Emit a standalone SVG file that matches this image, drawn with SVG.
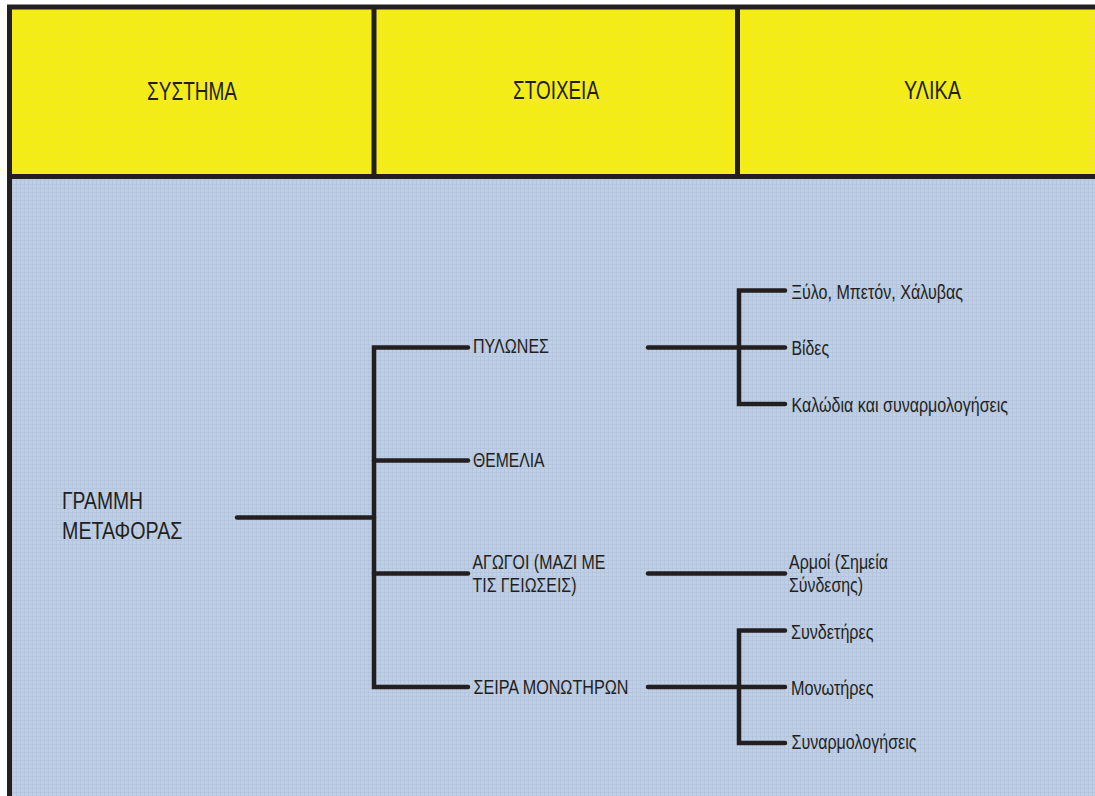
<svg xmlns="http://www.w3.org/2000/svg" width="1095" height="796" viewBox="0 0 1095 796">
  <style>
    .frame { stroke: #231f20; stroke-width: 5; fill: none; }
    .conn { stroke: #231f20; stroke-width: 4.5; fill: none; stroke-linecap: round; stroke-linejoin: miter; }
    text { font-family: "Liberation Sans", Arial, sans-serif; fill: #231f20; }
    .hdr { font-size: 26px; }
    .big { font-size: 23px; }
    .sm { font-size: 19.5px; }
  </style>
  <defs>
    <pattern id="gridY" width="4" height="4" patternUnits="userSpaceOnUse">
      <rect width="4" height="4" fill="#f6ef00"/>
      <path d="M0 0.5H4M0.5 0V4" stroke="#ece46a" stroke-width="1" opacity="0.35"/>
    </pattern>
    <pattern id="gridB" width="4" height="4" patternUnits="userSpaceOnUse">
      <rect width="4" height="4" fill="#bfcfe5"/>
      <path d="M0 0.5H4M0.5 0V4" stroke="#a9bbd6" stroke-width="1" opacity="0.5"/>
    </pattern>
  </defs>

  <g id="background">
    <rect x="10" y="8" width="1090" height="169" fill="url(#gridY)"/>
    <rect x="10" y="177" width="1090" height="625" fill="url(#gridB)"/>
    <path class="frame" d="M7 7H1095M9.5 5V796M7 176.5H1095M374 5V179M737.5 5V179"/>
  </g>

  <g id="connectors">
    <path class="conn" d="M237 517.5H374"/>
    <path class="conn" d="M468 347.5H374V687H468"/>
    <path class="conn" d="M374 460.5H468"/>
    <path class="conn" d="M374 573.5H468"/>
    <path class="conn" d="M648 347.5H785"/>
    <path class="conn" d="M785 290.5H739V404H785"/>
    <path class="conn" d="M648 573.5H785"/>
    <path class="conn" d="M648 687H785"/>
    <path class="conn" d="M785 630.5H739V743H785"/>
  </g>

  <g id="header-systima"><text class="hdr" x="147" y="100" textLength="90" lengthAdjust="spacingAndGlyphs">ΣΥΣΤΗΜΑ</text></g>
  <g id="header-stoixeia"><text class="hdr" x="513" y="98.5" textLength="86" lengthAdjust="spacingAndGlyphs">ΣΤΟΙΧΕΙΑ</text></g>
  <g id="header-ylika"><text class="hdr" x="904" y="99" textLength="57" lengthAdjust="spacingAndGlyphs">ΥΛΙΚΑ</text></g>

  <g id="node-grammi">
    <text class="big" x="62" y="509" textLength="81" lengthAdjust="spacingAndGlyphs">ΓΡΑΜΜΗ</text>
    <text class="big" x="62" y="538.5" textLength="120.5" lengthAdjust="spacingAndGlyphs">ΜΕΤΑΦΟΡΑΣ</text>
  </g>

  <g id="node-pylones"><text class="sm" x="473" y="353" textLength="76" lengthAdjust="spacingAndGlyphs">ΠΥΛΩΝΕΣ</text></g>
  <g id="node-themelia"><text class="sm" x="473" y="466.5" textLength="71.5" lengthAdjust="spacingAndGlyphs">ΘΕΜΕΛΙΑ</text></g>
  <g id="node-agogoi">
    <text class="sm" x="472.5" y="568.5" textLength="133" lengthAdjust="spacingAndGlyphs">ΑΓΩΓΟΙ (ΜΑΖΙ ΜΕ</text>
    <text class="sm" x="472.5" y="591.5" textLength="104" lengthAdjust="spacingAndGlyphs">ΤΙΣ ΓΕΙΩΣΕΙΣ)</text>
  </g>
  <g id="node-seira"><text class="sm" x="473.5" y="693.5" textLength="155" lengthAdjust="spacingAndGlyphs">ΣΕΙΡΑ ΜΟΝΩΤΗΡΩΝ</text></g>

  <g id="node-xylo"><text class="sm" x="791.5" y="298.5" textLength="171.5" lengthAdjust="spacingAndGlyphs">Ξύλο, Μπετόν, Χάλυβας</text></g>
  <g id="node-vides"><text class="sm" x="791.5" y="355" textLength="37.5" lengthAdjust="spacingAndGlyphs">Βίδες</text></g>
  <g id="node-kalodia"><text class="sm" x="791.5" y="411.5" textLength="216.5" lengthAdjust="spacingAndGlyphs">Καλώδια και συναρμολογήσεις</text></g>
  <g id="node-armoi">
    <text class="sm" x="789" y="568.5" textLength="99" lengthAdjust="spacingAndGlyphs">Αρμοί (Σημεία</text>
    <text class="sm" x="789" y="591.5" textLength="74" lengthAdjust="spacingAndGlyphs">Σύνδεσης)</text>
  </g>
  <g id="node-syndetires"><text class="sm" x="791" y="638.5" textLength="82.5" lengthAdjust="spacingAndGlyphs">Συνδετήρες</text></g>
  <g id="node-monotires"><text class="sm" x="791" y="695" textLength="82.5" lengthAdjust="spacingAndGlyphs">Μονωτήρες</text></g>
  <g id="node-synarmologiseis"><text class="sm" x="791.5" y="748.5" textLength="125" lengthAdjust="spacingAndGlyphs">Συναρμολογήσεις</text></g>
</svg>
